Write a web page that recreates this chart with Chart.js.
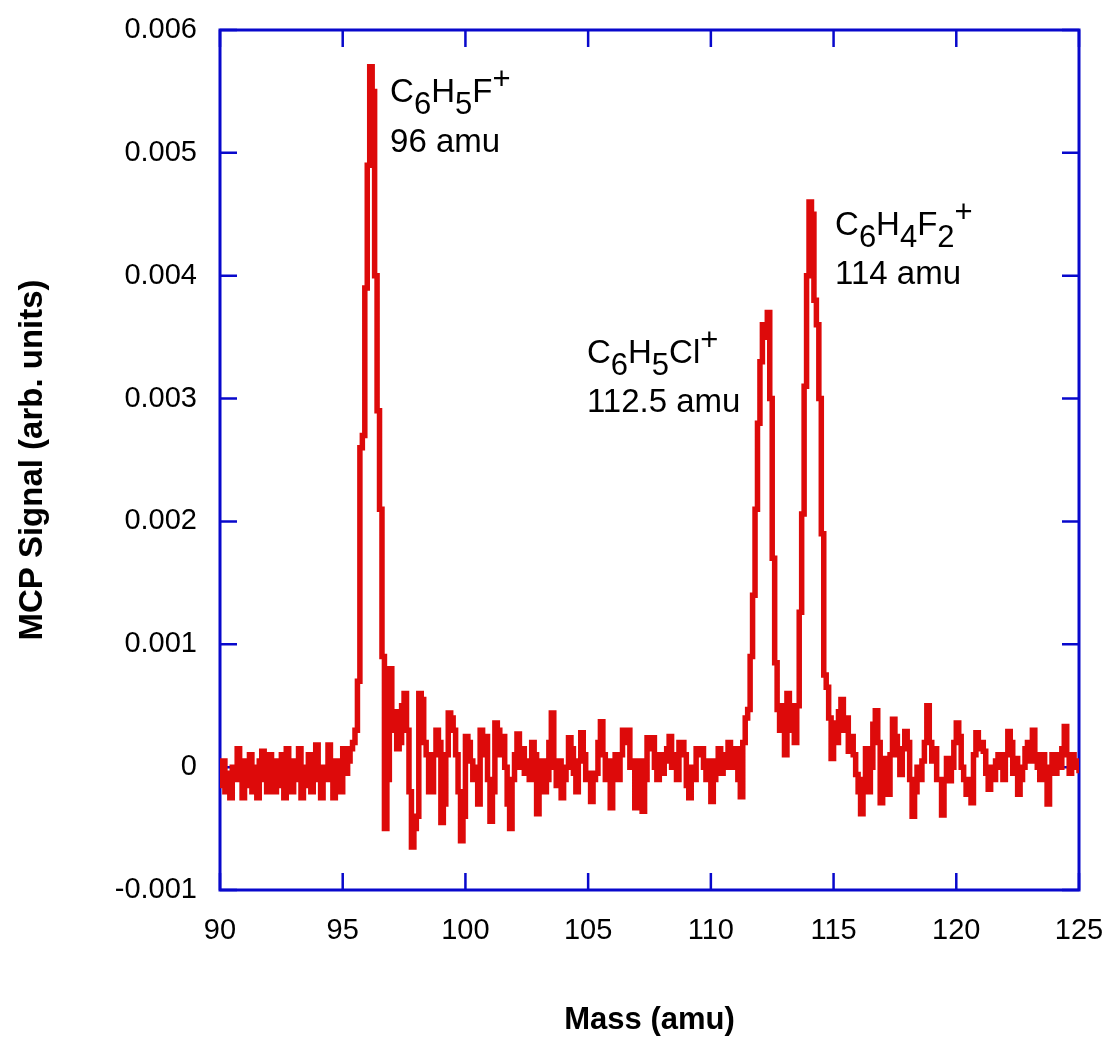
<!DOCTYPE html>
<html>
<head>
<meta charset="utf-8">
<title>MCP mass spectrum</title>
<script src="https://cdn.jsdelivr.net/npm/chart.js@4.4.0/dist/chart.umd.min.js"></script>
<style>
  html, body { margin: 0; padding: 0; background: #fff; }
  #wrap { width: 1107px; height: 1039px; }
</style>
</head>
<body>
<div id="wrap"><canvas id="spectrum" width="1107" height="1039"></canvas></div>
<script>
// sampling grid of the trace (amu)
const massStart = 90
const massStep = 0.1

// MCP signal in units of 1e-4 (arb.), one value per 0.1 amu, 90.0 -> 125.0
const signalE4 = [
  -1.5, 0.5, -2, -0.5, -2.5, 0, -1, 1.5, -1, -2.5,      // 90
  0.5, -1.5, 1, -2, 0, -2.5, 0.5, 1.3, -1, -2,          // 91
  1, -0.5, -2, 0.5, -1.5, 1, -2.5, 1.5, -0.5, -2,       // 92
  0.5, -1, 1.5, -2.5, 0, -1.5, 1, -2, 0.5, 1.8,         // 93
  -1, -2.5, 0, -1, 1.8, -0.5, -2.5, 0.5, -1, -2,        // 94
  1.5, -0.5, 0.5, 1.5, 2, 3, 7, 26, 27, 39,             // 95
  49, 57, 55, 40, 29, 21, 9, -5, -1, 8,                 // 96
  3, 4.5, 1.5, 2, 5, 6, 3, -2, -6.5, -5,                // 97
  -4, 6, 5.5, 2, 1, -2, -2, 1, 3, 2,                    // 98
  -4.5, -3, 1, 4.4, 4, 3, 1, -2, -6, -4,                // 99
  2.5, 2, 0.5, -1, 0, -3, 3, 1, 2.5, -1,                // 100
  -4.4, -2, 3.6, 3, 1, 2.5, 0, -3, -5, -1,              // 101
  1, 2.7, 0, 1.5, -0.5, 0.5, -1, 2, 1, -3.8,            // 102
  -1, 0.5, -2, -1, 2, 4.4, 0, -1.5, 0.5, -2.5,          // 103
  -1, 0, 2.4, 1.5, -0.5, -2, 0.5, 2.8, 1, -1,           // 104
  -0.5, -2.8, -1, -0.5, 2, 3.7, 1, -1, 0.5, -3.3,       // 105
  0, 1, -1, 1, 3, 2, 3, 0, 0.5, -3.3,                   // 106
  -1, 0.5, -3.6, -1, 2.4, 1.5, 2.4, 0, -1, 1,           // 107
  -0.5, 0.5, 1.5, 2.5, 0, 1, -1, 2, 2, 1,               // 108
  -1.5, -2.5, 0, -1, 1.5, 1, 1.5, 0, -1, 0.5,           // 109
  -2.8, -1, 0.5, 1.5, -0.5, 1, 0, 2, 1, 0,              // 110
  1.5, -1, -2.4, 2, 4, 4.7, 9, 14, 21, 28,              // 111
  33, 36, 35, 37, 30, 17, 8.5, 4.7, 3, 5,               // 112
  1, 6, 5, 3, 2, 5, 12.6, 20.6, 31, 40,                 // 113
  46, 45, 38, 36, 30, 19, 7.5, 6.5, 4, 0.7,             // 114
  3.6, 2, 4.5, 5.5, 3, 4, 1.3, 2.5, 1, -0.6,            // 115
  -2, -3.8, -1, 1.5, -2, 0, 3.5, 4.6, 2, -2.9,          // 116
  -1, 0.7, -2.2, 1, 3.9, 2.5, 1, -0.6, 1.5, 2.9,        // 117
  2, -1, -4, -2, 0, -1, 0.5, 2, 5, 2,                   // 118
  0.5, 1.5, -1, -1, -3.9, -1, 0.7, -1.1, 0, 2,          // 119
  3.6, 2.5, 0, -1, -2.2, -1, -2.9, 1, 2.8, 1.5,         // 120
  2, 1.3, -0.5, -1.8, 0, -1, 0.5, 1, 0, -1,             // 121
  1, 2.9, 2, -0.5, 0.7, -2.2, -1, 0, 1.5, 2,            // 122
  0.5, 3, 1, 0, -1, 1, -1, -3, 0, 1,                    // 123
  -0.5, 1, 0, 1.5, 3.3, 1, -0.5, 1, 0, 0.5,             // 124
  -0.5                                                  // 125
]

const massTicks = [90, 95, 100, 105, 110, 115, 120, 125]
const signalTicks = [-0.001, 0, 0.001, 0.002, 0.003, 0.004, 0.005, 0.006]
const signalTickLabels = ['-0.001', '0', '0.001', '0.002', '0.003', '0.004', '0.005', '0.006']

// peak annotations: formula (_ = subscript, ^ = superscript) and mass note
const labelMass = [96.93, 104.95, 115.06]
const labelSignal = [0.00541, 0.00329, 0.00433]
const labelFormula = ['C_6H_5F^+', 'C_6H_5Cl^+', 'C_6H_4F_2^+']
const labelNote = ['96 amu', '112.5 amu', '114 amu']

const FONT = '"Liberation Sans", Arial, sans-serif'
const AXIS_BLUE = '#0808cc'
const TRACE_RED = '#dd0a0a'

Chart.defaults.font.family = FONT

const points = signalE4.map((s, i) => ({ x: massStart + i * massStep, y: s * 1e-4 }))

//box round the plot with ticks pointing inward on all four sides
const frameTicks = {
  id: 'frameTicks',
  beforeDatasetsDraw(chart) {
    const { ctx, chartArea: a, scales } = chart
    const len = 17
    ctx.save()
    ctx.strokeStyle = AXIS_BLUE
    ctx.lineWidth = 3
    ctx.strokeRect(a.left, a.top, a.right - a.left, a.bottom - a.top)
    ctx.lineWidth = 2.5
    ctx.beginPath()
    massTicks.forEach(v => {
      const x = scales.x.getPixelForValue(v)
      ctx.moveTo(x, a.bottom); ctx.lineTo(x, a.bottom - len)
      ctx.moveTo(x, a.top); ctx.lineTo(x, a.top + len)
    })
    signalTicks.forEach(v => {
      const y = scales.y.getPixelForValue(v)
      ctx.moveTo(a.left, y); ctx.lineTo(a.left + len, y)
      ctx.moveTo(a.right, y); ctx.lineTo(a.right - len, y)
    })
    ctx.stroke()
    ctx.restore()
  }
}

// writes a formula like C_6H_5F^+ with sub/superscripts
function drawFormula(ctx, text, x, y) {
  let cx = x
  for (let i = 0; i < text.length; i++) {
    let ch = text[i]
    let size = 33, dy = 0
    if (ch === '_') { ch = text[++i]; size = 31; dy = 12 }
    else if (ch === '^') { ch = text[++i]; size = 31; dy = -13 }
    ctx.font = size + 'px ' + FONT
    ctx.fillText(ch, cx, y + dy)
    cx += ctx.measureText(ch).width
  }
}

const peakLabels = {
  id: 'peakLabels',
  afterDatasetsDraw(chart) {
    const { ctx, scales } = chart
    ctx.save()
    ctx.fillStyle = '#000'
    ctx.textAlign = 'left'
    ctx.textBaseline = 'alphabetic'
    labelMass.forEach((m, i) => {
      const x = scales.x.getPixelForValue(m)
      const y = scales.y.getPixelForValue(labelSignal[i])
      drawFormula(ctx, labelFormula[i], x, y)
      ctx.font = '33px ' + FONT
      ctx.fillText(labelNote[i], x, scales.y.getPixelForValue(labelSignal[i] - 0.0004))
    })
    ctx.restore()
  }
}

new Chart(document.getElementById('spectrum'), {
  type: 'line',
  data: {
    datasets: [{
      data: points,
      borderColor: TRACE_RED,
      borderWidth: 5.5,
      pointRadius: 0,
      stepped: true,
      fill: false,
      tension: 0
    }]
  },
  options: {
    responsive: false,
    animation: false,
    events: [],
    layout: { padding: { top: 30, right: 28, bottom: 0, left: 0 } },
    plugins: { legend: { display: false }, tooltip: { enabled: false } },
    scales: {
      x: {
        type: 'linear',
        min: 90,
        max: 125,
        afterBuildTicks: s => { s.ticks = massTicks.map(v => ({ value: v })) },
        // fixed band under the plot, no extra room for the end labels
        afterFit: s => { s.height = 149; s.paddingLeft = 0; s.paddingRight = 0 },
        grid: { display: false, drawTicks: false },
        border: { display: false },
        ticks: { color: '#000', font: { size: 29 }, padding: 24, maxRotation: 0, autoSkip: false },
        title: {
          display: true,
          text: 'Mass (amu)',
          color: '#000',
          font: { size: 31, weight: 'bold' },
          padding: { top: 1, bottom: 0 }
        }
      },
      y: {
        type: 'linear',
        min: -0.001,
        max: 0.006,
        afterBuildTicks: s => { s.ticks = signalTicks.map(v => ({ value: v })) },
        afterFit: s => { s.width = 220; s.paddingTop = 0; s.paddingBottom = 0 },
        grid: { display: false, drawTicks: false },
        border: { display: false },
        ticks: {
          color: '#000',
          font: { size: 29 },
          padding: 23,
          autoSkip: false,
          callback: (v, i) => signalTickLabels[i]
        },
        title: {
          display: true,
          text: 'MCP Signal (arb. units)',
          color: '#000',
          font: { size: 33, weight: 'bold' },
          padding: { top: 13, bottom: 0 }
        }
      }
    }
  },
  plugins: [frameTicks, peakLabels]
})
</script>
</body>
</html>
